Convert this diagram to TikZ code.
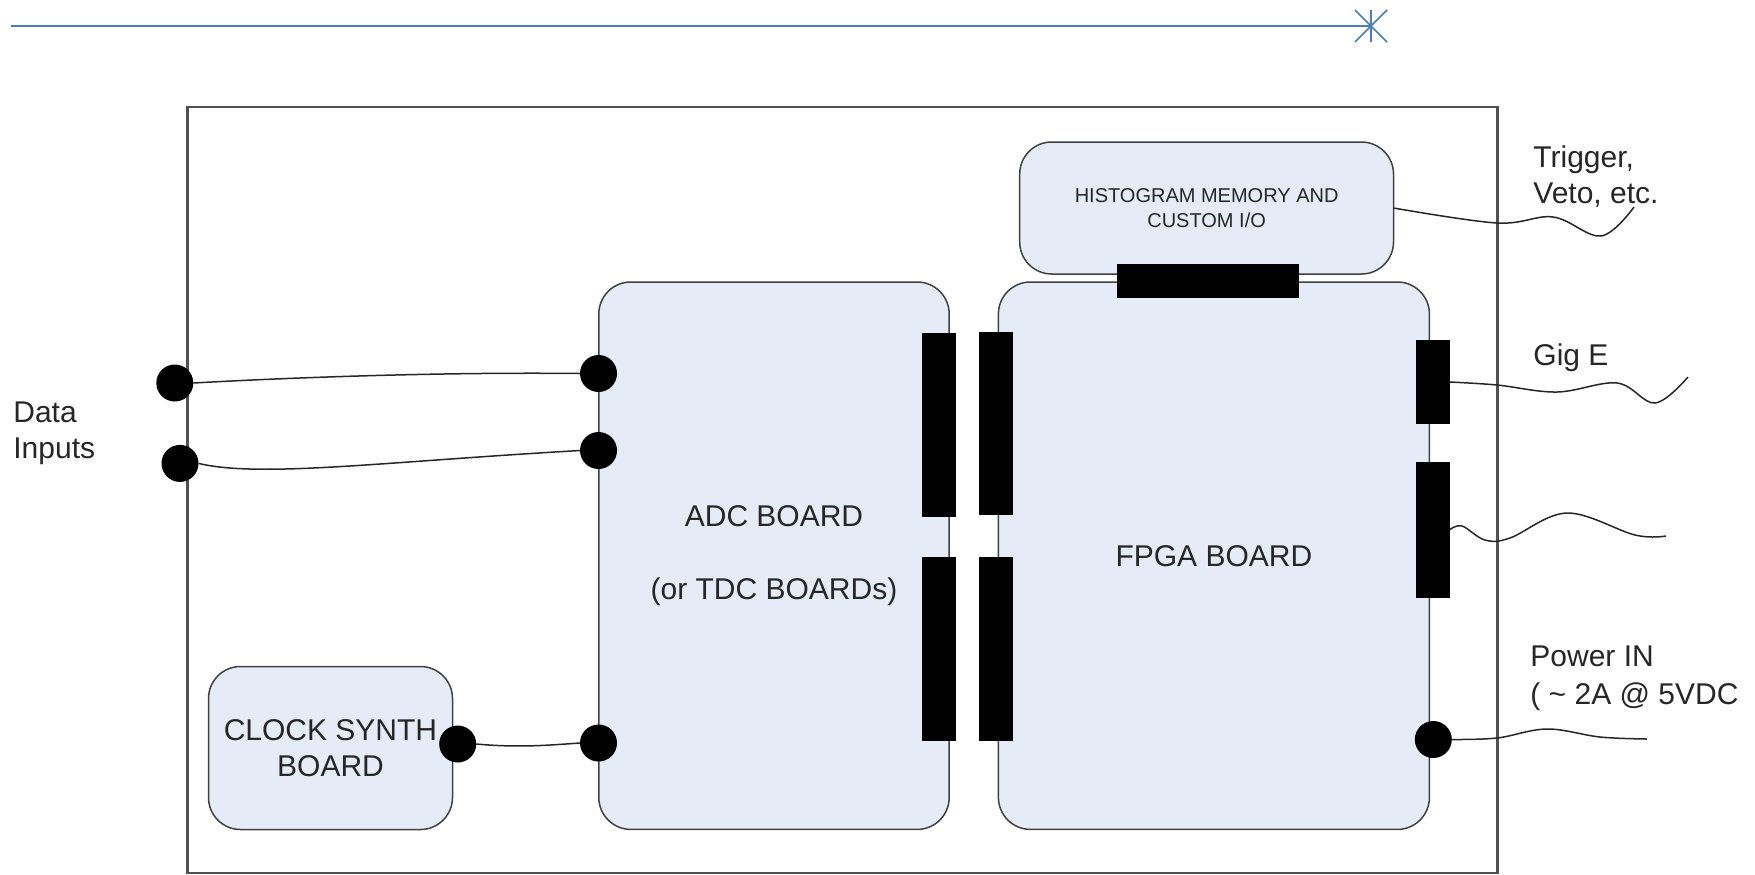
\documentclass[tikz,border=0pt]{standalone}
\usepackage{fontspec}
\setmainfont{Liberation Sans}
\definecolor{bdFill}{HTML}{E5ECF7}
\definecolor{bdInk}{HTML}{404040}
\definecolor{bdText}{HTML}{262626}
\definecolor{bdRule}{HTML}{4A7EBB}
\definecolor{bdCase}{HTML}{505050}

\begin{document}
\begin{tikzpicture}[
    x=0.5pt, y=-0.5pt,
    board/.style={draw=bdInk, line width=0.75pt, rounded corners=16pt, fill=bdFill,
                  inner sep=0pt, outer sep=0pt, align=center, text=bdText,
                  font=\fontsize{15}{18}\selectfont},
    port/.style={fill=black, draw=black, line width=0.3pt, inner sep=0pt, outer sep=0pt,
                 minimum width=16.5pt},
    pin/.style={circle, fill=black, inner sep=0pt, outer sep=0pt, minimum size=18.5pt},
    wire/.style={draw=black!85, line width=0.75pt},
    lbl/.style={anchor=west, align=left, inner sep=0pt, text=bdText,
                font=\fontsize{15}{18}\selectfont},
  ]
  \useasboundingbox (0,0) rectangle (1755,874);

  % title rule with its star end
  \coordinate (ruleL) at (11,26);
  \coordinate (ruleR) at (1371,26);
  \draw[bdRule, line width=1.1pt] (ruleL) -- (ruleR);
  \draw[bdRule, line width=0.8pt] (ruleR) ++(0,-16) -- ++(0,32)
      (ruleR) ++(-16,-16) -- ++(32,32)
      (ruleR) ++(-16,16) -- ++(32,-32);

  % enclosure
  \node[draw=bdCase, line width=1.3pt, inner sep=0pt, minimum width=655pt,
        minimum height=383pt] (case) at (842.5,490) {};

  % boards
  \node[board, minimum width=175.2pt, minimum height=273.7pt] (adc) at (774,555.7)
      {ADC BOARD\\[18.5pt](or TDC BOARDs)};
  \node[board, minimum width=215.5pt, minimum height=273.7pt] (fpga) at (1213.9,555.7)
      {FPGA BOARD};
  \node[board, minimum width=186.9pt, minimum height=66pt,
        font=\fontsize{10}{12.5}\selectfont] (hist) at (1206.6,208)
      {HISTOGRAM MEMORY AND\\CUSTOM I/O};
  \node[board, minimum width=122pt, minimum height=81.5pt] (clk) at (330.5,748)
      {CLOCK SYNTH\\BOARD};

  % board connectors
  \node[port, minimum height=91.2pt] (adcUp)  at (938.5,424.8) {};
  \node[port, minimum height=91.3pt] (adcLo)  at (938.5,648.7) {};
  \node[port, minimum height=91pt]   (fpgaUp) at (995.5,423) {};
  \node[port, minimum height=91.5pt] (fpgaLo) at (995.5,648.5) {};
  \node[port, minimum height=41.3pt] (gigPort) at (1433.2,382) {};
  \node[port, minimum height=67.3pt] (auxPort) at (1433.2,529.7) {};
  \node[port, minimum width=90.5pt, minimum height=16.5pt] (histPort) at (1207.5,280.5) {};

  % round pins
  \node[pin] (inA)    at (174.8,383) {};
  \node[pin] (inB)    at (180,463.4) {};
  \node[pin] (adcA)   at (598.5,373.5) {};
  \node[pin] (adcB)   at (598.5,450.5) {};
  \node[pin] (adcClk) at (598.5,743) {};
  \node[pin] (clkOut) at (457.7,744) {};
  \node[pin] (pwrIn)  at (1433.3,739.5) {};

  % wires inside the case
  \draw[wire] (inA.east) .. controls (300,377) and (450,372) .. (adcA.west);
  \draw[wire] (inB.east) .. controls (260,478) and (380,462) .. (adcB.west);
  \draw[wire] (clkOut.east) .. controls (520,748) and (550,745) .. (adcClk.west);

  % cables leaving the case
  \coordinate (trigEnd) at (1634,207);
  \coordinate (gigEnd)  at (1688,377);
  \coordinate (auxEnd)  at (1666,536);
  \coordinate (pwrEnd)  at (1647,739);
  \draw[wire] plot[smooth, tension=0.6] coordinates
      {(hist.east) (1497,223) (1553,217) (1601,236) (trigEnd)};
  \draw[wire] plot[smooth, tension=0.6] coordinates
      {(gigPort.east) (1497,385) (1557,392) (1617,383) (1655,403) (gigEnd)};
  \draw[wire] plot[smooth, tension=0.6] coordinates
      {(auxPort.east) (1462,526) (1485,540) (1510,538) (1567,513) (1635,535) (auxEnd)};
  \draw[wire] plot[smooth, tension=0.6] coordinates
      {(pwrIn.east) (1497,738) (1547,729) (1600,737) (pwrEnd)};

  % labels
  \node[lbl] (dataLbl) at (13,433.5)  {Data\\Inputs};
  \node[lbl] (trigLbl) at (1533,177)  {Trigger,\\Veto, etc.};
  \node[lbl] (gigLbl)  at (1533,357.5) {Gig E};
  \node[lbl] (pwrLbl)  at (1530,678.5) {Power IN\\[1pt]( \textasciitilde\ 2A @ 5VDC};
\end{tikzpicture}
\end{document}
